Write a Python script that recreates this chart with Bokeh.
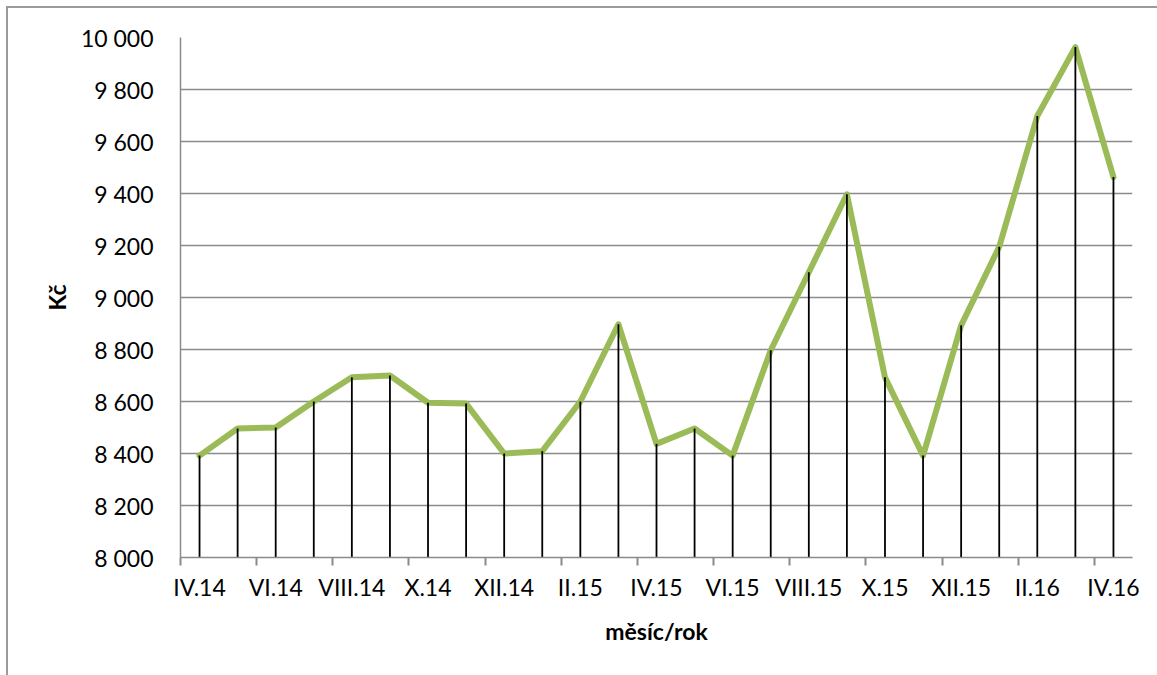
from bokeh.plotting import figure
from bokeh.models import LinearAxis, FixedTicker, Range1d
from bokeh.embed import file_html
from bokeh.resources import INLINE

# monthly values (Kč)
months = ["IV.14", "V.14", "VI.14", "VII.14", "VIII.14", "IX.14", "X.14", "XI.14",
          "XII.14", "I.15", "II.15", "III.15", "IV.15", "V.15", "VI.15", "VII.15",
          "VIII.15", "IX.15", "X.15", "XI.15", "XII.15", "I.16", "II.16", "III.16", "IV.16"]
values = [8392, 8496, 8500, 8600, 8693, 8700, 8595, 8592, 8400, 8409, 8600, 8897,
          8437, 8496, 8392, 8797, 9097, 9397, 8693, 8392, 8893, 9195, 9698, 9963, 9463]
y_ticks = [8000, 8200, 8400, 8600, 8800, 9000, 9200, 9400, 9600, 9800, 10000]
y_min, y_max = 8000, 10000

FONT = "Lato"
GRID = "#8a8a8a"
GREEN = "#9BBB59"
OFF = 8  # page offset of the chart area border

xs = list(range(len(months)))

p = figure(width=1157 - OFF, height=700 - OFF, output_backend="svg", toolbar_location=None,
           x_range=Range1d(-0.5, len(months) - 0.5), y_range=Range1d(y_min, y_max),
           x_axis_location=None, y_axis_location=None,
           min_border_left=180 - OFF, min_border_right=25, min_border_top=37 - OFF,
           min_border_bottom=135)
p.frame_width = 952
p.frame_height = 520
p.outline_line_color = None
p.background_fill_color = "white"
p.border_fill_color = "white"
# chart area border (left and top edges show inside the window)
p.styles = {"border-left": "2px solid #9a9a9a", "border-top": "2px solid #9a9a9a",
            "margin-left": "6px", "margin-top": "6px"}

# value axis
yax = LinearAxis(ticker=FixedTicker(ticks=y_ticks))
yax.major_label_overrides = {v: f"{v:,}".replace(",", " ") for v in y_ticks}
yax.axis_line_color = GRID
yax.axis_line_width = 1.5
yax.major_tick_line_color = None
yax.minor_tick_line_color = None
yax.major_label_standoff = 21
yax.major_label_text_font = FONT
yax.major_label_text_font_size = "23px"
yax.major_label_text_color = "black"
yax.axis_label = "Kč"
yax.axis_label_text_font = FONT
yax.axis_label_text_font_style = "bold"
yax.axis_label_text_font_size = "23px"
yax.axis_label_text_color = "black"
yax.axis_label_standoff = 7
p.add_layout(yax, "left")

# category axis: tick marks between every second month
bounds = [i - 0.5 for i in range(0, len(months), 2)]
xax_ticks = LinearAxis(ticker=FixedTicker(ticks=bounds))
xax_ticks.major_label_text_color = None
xax_ticks.major_label_text_font_size = "2px"
xax_ticks.major_label_standoff = 0
xax_ticks.axis_line_color = GRID
xax_ticks.axis_line_width = 1.5
xax_ticks.major_tick_line_color = GRID
xax_ticks.major_tick_line_width = 2
xax_ticks.major_tick_in = 0
xax_ticks.major_tick_out = 8
xax_ticks.minor_tick_line_color = None
p.add_layout(xax_ticks, "below")

# category axis: month labels on every second month
label_pos = list(range(0, len(months), 2))
xax = LinearAxis(ticker=FixedTicker(ticks=label_pos))
xax.major_label_overrides = {i: months[i] for i in label_pos}
xax.axis_line_color = None
xax.major_tick_line_color = None
xax.major_tick_out = 0
xax.minor_tick_line_color = None
xax.major_label_standoff = 7
xax.major_label_text_font = FONT
xax.major_label_text_font_size = "23px"
xax.major_label_text_color = "black"
xax.axis_label = "měsíc/rok"
xax.axis_label_text_font = FONT
xax.axis_label_text_font_style = "bold"
xax.axis_label_text_font_size = "23px"
xax.axis_label_text_color = "black"
xax.axis_label_standoff = 13
p.add_layout(xax, "below")

p.xgrid.visible = False
p.ygrid.ticker = FixedTicker(ticks=y_ticks)
p.ygrid.grid_line_color = GRID
p.ygrid.grid_line_width = 1.5

# series line with drop lines to the axis
p.line(xs, values, line_color=GREEN, line_width=6, line_join="round", line_cap="round")
p.segment(x0=xs, y0=[y_min] * len(xs), x1=xs, y1=values, line_color="black", line_width=1.8)

open("out.html", "w").write(file_html(p, INLINE))
